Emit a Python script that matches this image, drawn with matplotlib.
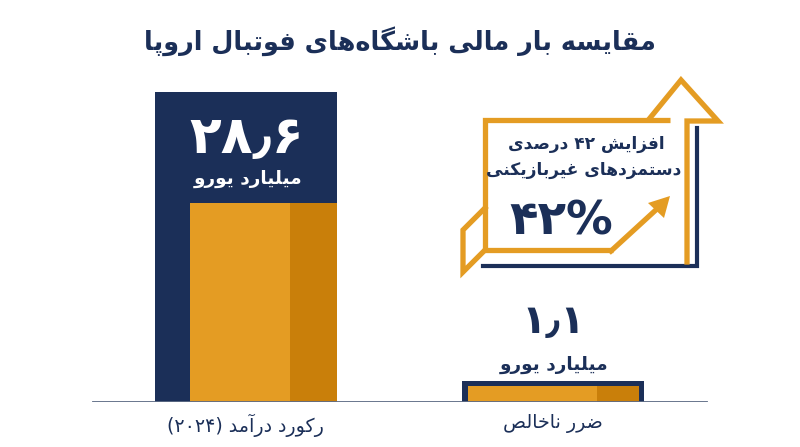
import re
import matplotlib
matplotlib.use("Agg")
import matplotlib.pyplot as plt
from matplotlib.patches import Rectangle, Polygon
from matplotlib.textpath import TextPath
from matplotlib.font_manager import FontProperties

# ---------------- data ----------------
title = "مقایسه بار مالی باشگاه‌های فوتبال اروپا"
categories = ["رکورد درآمد (۲۰۲۴)", "ضرر ناخالص"]
values = [28.6, 1.1]
value_labels = ["۲۸٫۶", "۱٫۱"]
unit_label = "میلیارد یورو"
callout_lines = ["افزایش ۴۲ درصدی", "دستمزدهای غیربازیکنی"]
callout_value = "۴۲%"

# ---------------- style ----------------
NAVY = "#1b2f58"
ORANGE = "#e49c23"
ORANGE_D = "#c97f0a"
BASE = "#5d6b85"
W, H = 800, 447

# ---------------- minimal Persian shaping + RTL ----------------
F = {
    'ا': ('\uFE8D', '\uFE8E', None, None), 'آ': ('\uFE81', '\uFE82', None, None),
    'ب': ('\uFE8F', '\uFE90', '\uFE91', '\uFE92'), 'پ': ('\uFB56', '\uFB57', '\uFB58', '\uFB59'),
    'ت': ('\uFE95', '\uFE96', '\uFE97', '\uFE98'), 'ث': ('\uFE99', '\uFE9A', '\uFE9B', '\uFE9C'),
    'ج': ('\uFE9D', '\uFE9E', '\uFE9F', '\uFEA0'), 'چ': ('\uFB7A', '\uFB7B', '\uFB7C', '\uFB7D'),
    'ح': ('\uFEA1', '\uFEA2', '\uFEA3', '\uFEA4'), 'خ': ('\uFEA5', '\uFEA6', '\uFEA7', '\uFEA8'),
    'د': ('\uFEA9', '\uFEAA', None, None), 'ذ': ('\uFEAB', '\uFEAC', None, None),
    'ر': ('\uFEAD', '\uFEAE', None, None), 'ز': ('\uFEAF', '\uFEB0', None, None),
    'ژ': ('\uFB8A', '\uFB8B', None, None),
    'س': ('\uFEB1', '\uFEB2', '\uFEB3', '\uFEB4'), 'ش': ('\uFEB5', '\uFEB6', '\uFEB7', '\uFEB8'),
    'ص': ('\uFEB9', '\uFEBA', '\uFEBB', '\uFEBC'), 'ض': ('\uFEBD', '\uFEBE', '\uFEBF', '\uFEC0'),
    'ط': ('\uFEC1', '\uFEC2', '\uFEC3', '\uFEC4'), 'ظ': ('\uFEC5', '\uFEC6', '\uFEC7', '\uFEC8'),
    'ع': ('\uFEC9', '\uFECA', '\uFECB', '\uFECC'), 'غ': ('\uFECD', '\uFECE', '\uFECF', '\uFED0'),
    'ف': ('\uFED1', '\uFED2', '\uFED3', '\uFED4'), 'ق': ('\uFED5', '\uFED6', '\uFED7', '\uFED8'),
    'ک': ('\uFB8E', '\uFB8F', '\uFB90', '\uFB91'), 'گ': ('\uFB92', '\uFB93', '\uFB94', '\uFB95'),
    'ل': ('\uFEDD', '\uFEDE', '\uFEDF', '\uFEE0'), 'م': ('\uFEE1', '\uFEE2', '\uFEE3', '\uFEE4'),
    'ن': ('\uFEE5', '\uFEE6', '\uFEE7', '\uFEE8'), 'ه': ('\uFEE9', '\uFEEA', '\uFEEB', '\uFEEC'),
    'و': ('\uFEED', '\uFEEE', None, None),
    'ی': ('\uFBFC', '\uFBFD', '\uFBFE', '\uFBFF'),
}


def _joins_next(c):
    return c in F and F[c][2] is not None


def shape(s):
    out = []
    for i, c in enumerate(s):
        if c == '\u200c':
            continue
        if c not in F:
            out.append(c)
            continue
        prev = s[i - 1] if i > 0 else None
        nxt = s[i + 1] if i + 1 < len(s) else None
        cp = prev is not None and _joins_next(prev)
        cn = nxt is not None and nxt in F and _joins_next(c)
        iso, fin, ini, med = F[c]
        out.append(med if (cp and cn) else fin if cp else ini if cn else iso)
    return ''.join(out)


NUM = r'0-9\u06F0-\u06F9\u066B%'
MIRROR = str.maketrans('()', ')(')


def rtl(s):
    sh = shape(s)
    runs = re.findall(r'[' + NUM + r']+|[^' + NUM + r']+', sh)
    res = []
    for r in reversed(runs):
        if re.match(r'[' + NUM + r']', r):
            res.append(r)
        else:
            res.append(r[::-1].translate(MIRROR))
    return ''.join(res)


# ---------------- figure ----------------
fig = plt.figure(figsize=(8, 4.47), dpi=100)
fig.patch.set_facecolor("white")

base_px, top_px = 402, 92
ax = fig.add_axes([0, 1 - base_px / H, 1, (base_px - top_px) / H])
ax.set_ylim(0, values[0])
px_per_cat = 307.0
ax.set_xlim(-246 / px_per_cat, (W - 246) / px_per_cat)
ax.axis("off")
bar_w = 182 / px_per_cat
xs = [0, 1]
u_per_px = values[0] / (base_px - top_px)

MIN_H = 21 * u_per_px  # minimum visible bar height
heights = [max(v, MIN_H) for v in values]
ax.bar(xs, heights, width=bar_w, color=NAVY, zorder=1)

inner = [dict(l=35, r=0, top=0.642 * heights[0], dark=47),
         dict(l=6, r=5, top=heights[1] - 5 * u_per_px, dark=42)]
for x, st in zip(xs, inner):
    x0 = x - bar_w / 2 + st['l'] / px_per_cat
    x1 = x + bar_w / 2 - st['r'] / px_per_cat
    ax.add_patch(Rectangle((x0, 0), x1 - x0, st['top'], color=ORANGE, lw=0, zorder=2))
    xd = x1 - st['dark'] / px_per_cat
    ax.add_patch(Rectangle((xd, 0), x1 - xd, st['top'], color=ORANGE_D, lw=0, zorder=3))
ax.axhline(0, xmin=93 / W, xmax=707 / W, color=BASE, lw=1.3, zorder=4)

ov = fig.add_axes([0, 0, 1, 1])
ov.set_xlim(0, W)
ov.set_ylim(H, 0)
ov.axis("off")
ov.patch.set_visible(False)

PT2PX = 100 / 72.0


def put(s, x0, x1, y0, y1, color, weight="bold", wh=0.4, fs=None):
    """Fit ink of text into pixel box (compromise between width & height)."""
    vis = rtl(s)
    fp = FontProperties(family="DejaVu Sans", weight=weight)
    e = TextPath((0, 0), vis, size=100, prop=fp).get_extents()
    if fs is None:
        fs_w = (x1 - x0) / (e.width / 100 * PT2PX)
        fs_h = (y1 - y0) / (e.height / 100 * PT2PX)
        fs = fs_w ** (1 - wh) * fs_h ** wh
    k = fs / 100 * PT2PX
    cx, cy = (x0 + x1) / 2, (y0 + y1) / 2
    xl = cx - (e.x0 + e.x1) / 2 * k
    yb = cy + (e.y0 + e.y1) / 2 * k
    ov.text(xl, yb, vis, ha="left", va="baseline", color=color,
            fontproperties=fp, fontsize=fs)
    return fs


put(title, 158, 642, 25, 58, NAVY, wh=0.3)
put(value_labels[0], 195, 295, 118, 160, "white", wh=0.6)
fu = put(unit_label, 197, 297, 168, 190, "white", wh=0.3)
put(value_labels[1], 532, 573, 303, 342, NAVY, wh=0.45)
put(unit_label, 502, 603, 355, 375, NAVY, fs=fu)
fc = put(categories[1], 505, 600, 413, 433, NAVY, weight="normal", wh=0.3)
put(categories[0], 177, 315, 417, 433, NAVY, weight="normal", fs=fc)
f2 = put(callout_lines[1], 493, 675, 158, 182, NAVY, wh=0.15)
put(callout_lines[0], 508, 665, 135, 154, NAVY, fs=f2)
put(callout_value, 515, 607, 198, 237, NAVY, wh=0.5)

lw_o, lw_n = 3.8, 3.0
ov.plot([697, 697, 483], [128, 266, 266], color=NAVY, lw=lw_n, solid_joinstyle="miter")
ov.plot([613, 485, 485, 670], [250, 250, 120, 120], color=ORANGE, lw=lw_o,
        solid_joinstyle="miter", solid_capstyle="butt")
ov.plot([650, 681, 718, 687, 687], [118, 80, 121, 121, 262], color=ORANGE, lw=lw_o,
        solid_joinstyle="miter")
ov.plot([611, 658], [251, 208], color=ORANGE, lw=lw_o)
ov.add_patch(Polygon([[670, 196], [648, 203], [664, 218]], closed=True, color=ORANGE, lw=0))
ov.plot([485, 463, 463, 485], [208, 230, 272, 250], color=ORANGE, lw=lw_o,
        solid_joinstyle="miter")

fig.savefig("out.png", dpi=100)
